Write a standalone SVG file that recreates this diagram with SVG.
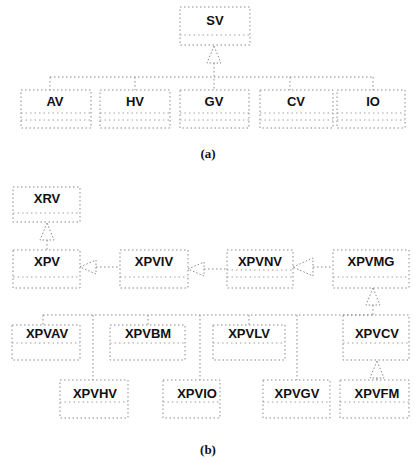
<svg xmlns="http://www.w3.org/2000/svg" width="417" height="465" viewBox="0 0 417 465">
<style>
.box{fill:none;stroke:#8a8a8a;stroke-width:1;stroke-dasharray:1.5 2.5}
.div{fill:none;stroke:#a0a0a0;stroke-width:1;stroke-dasharray:1.5 3}
.ln{fill:none;stroke:#8a8a8a;stroke-width:1;stroke-dasharray:1.5 2.5}
.tri{fill:#fff;stroke:#8a8a8a;stroke-width:1;stroke-dasharray:1.5 2}
.t{font-family:"Liberation Sans",Arial,sans-serif;font-weight:bold;font-size:13px;fill:#111;text-anchor:middle}
.cap{font-family:"Liberation Serif","Times New Roman",serif;font-weight:bold;font-size:13px;fill:#111;text-anchor:middle}
</style>
<rect width="417" height="465" fill="#fff"/>
<g id="connectors">
<!-- (a) -->
<line class="ln" x1="50" y1="77" x2="373" y2="77"/>
<line class="ln" x1="50" y1="77" x2="50" y2="90"/>
<line class="ln" x1="135" y1="77" x2="135" y2="90"/>
<line class="ln" x1="214" y1="63" x2="214" y2="90"/>
<line class="ln" x1="290" y1="77" x2="290" y2="90"/>
<line class="ln" x1="373" y1="77" x2="373" y2="90"/>
<polygon class="tri" points="214,46 207,63 221,63"/>
<!-- (b) -->
<line class="ln" x1="47" y1="240" x2="47" y2="250"/>
<polygon class="tri" points="47,223 40,240 54,240"/>
<line class="ln" x1="96" y1="267" x2="120" y2="267"/>
<polygon class="tri" points="80,267 96,260 96,274"/>
<line class="ln" x1="204" y1="269" x2="227" y2="269"/>
<polygon class="tri" points="188,269 204,262 204,276"/>
<line class="ln" x1="313" y1="267" x2="333" y2="267"/>
<polygon class="tri" points="293,267 313,258 313,276"/>
<polygon class="tri" points="373,288 366,305 380,305"/>
<line class="ln" x1="373" y1="305" x2="373" y2="315"/>
<line class="ln" x1="43" y1="315" x2="373" y2="315"/>
<line class="ln" x1="43" y1="315" x2="43" y2="325"/>
<line class="ln" x1="93" y1="315" x2="93" y2="380"/>
<line class="ln" x1="148" y1="315" x2="148" y2="325"/>
<line class="ln" x1="200" y1="315" x2="200" y2="380"/>
<line class="ln" x1="249" y1="315" x2="249" y2="325"/>
<line class="ln" x1="297" y1="315" x2="297" y2="380"/>
<polygon class="tri" points="377,361 370,378 384,378"/>
<line class="ln" x1="377" y1="378" x2="377" y2="380"/>
</g>
<g id="SV"><rect class="box" x="180" y="7" width="70" height="38"/><line class="div" x1="180" y1="35" x2="250" y2="35"/><text class="t" x="215" y="25">SV</text></g>
<g id="AV"><rect class="box" x="21" y="90" width="70" height="38"/><line class="div" x1="21" y1="113" x2="91" y2="113"/><line class="div" x1="21" y1="120" x2="91" y2="120"/><text class="t" x="55" y="106">AV</text></g>
<g id="HV"><rect class="box" x="100" y="90" width="70" height="38"/><line class="div" x1="100" y1="113" x2="170" y2="113"/><line class="div" x1="100" y1="120" x2="170" y2="120"/><text class="t" x="135" y="106">HV</text></g>
<g id="GV"><rect class="box" x="180" y="90" width="69" height="38"/><line class="div" x1="180" y1="113" x2="249" y2="113"/><line class="div" x1="180" y1="120" x2="249" y2="120"/><text class="t" x="214" y="106">GV</text></g>
<g id="CV"><rect class="box" x="260" y="90" width="73" height="38"/><line class="div" x1="260" y1="113" x2="333" y2="113"/><line class="div" x1="260" y1="120" x2="333" y2="120"/><text class="t" x="296" y="106">CV</text></g>
<g id="IO"><rect class="box" x="337" y="90" width="68" height="38"/><line class="div" x1="337" y1="113" x2="405" y2="113"/><line class="div" x1="337" y1="120" x2="405" y2="120"/><text class="t" x="373" y="106">IO</text></g>
<text class="cap" x="208" y="158">(a)</text>
<g id="XRV"><rect class="box" x="13" y="187" width="67" height="35"/><line class="div" x1="13" y1="213" x2="80" y2="213"/><text class="t" x="47" y="203">XRV</text></g>
<g id="XPV"><rect class="box" x="13" y="250" width="67" height="38"/><line class="div" x1="13" y1="277" x2="80" y2="277"/><text class="t" x="47" y="266">XPV</text></g>
<g id="XPVIV"><rect class="box" x="120" y="250" width="68" height="38"/><line class="div" x1="120" y1="277" x2="188" y2="277"/><text class="t" x="154" y="266">XPVIV</text></g>
<g id="XPVNV"><rect class="box" x="227" y="250" width="66" height="38"/><line class="div" x1="227" y1="270" x2="293" y2="270"/><line class="div" x1="227" y1="277" x2="293" y2="277"/><text class="t" x="260" y="266">XPVNV</text></g>
<g id="XPVMG"><rect class="box" x="333" y="250" width="76" height="38"/><line class="div" x1="333" y1="277" x2="409" y2="277"/><text class="t" x="371" y="266">XPVMG</text></g>
<g id="XPVAV"><rect class="box" x="12" y="325" width="68" height="35"/><line class="div" x1="12" y1="343" x2="80" y2="343"/><text class="t" x="47" y="338">XPVAV</text></g>
<g id="XPVBM"><rect class="box" x="110" y="325" width="75" height="35"/><line class="div" x1="110" y1="343" x2="185" y2="343"/><text class="t" x="148" y="338">XPVBM</text></g>
<g id="XPVLV"><rect class="box" x="213" y="325" width="72" height="35"/><line class="div" x1="213" y1="343" x2="285" y2="343"/><text class="t" x="249" y="338">XPVLV</text></g>
<g id="XPVCV"><rect class="box" x="343" y="315" width="66" height="45"/><line class="div" x1="343" y1="343" x2="409" y2="343"/><text class="t" x="377" y="338">XPVCV</text></g>
<g id="XPVHV"><rect class="box" x="60" y="380" width="68" height="38"/><line class="div" x1="60" y1="402" x2="128" y2="402"/><text class="t" x="95" y="398">XPVHV</text></g>
<g id="XPVIO"><rect class="box" x="163" y="380" width="57" height="38"/><line class="div" x1="163" y1="402" x2="220" y2="402"/><text class="t" x="197" y="398">XPVIO</text></g>
<g id="XPVGV"><rect class="box" x="263" y="380" width="67" height="38"/><line class="div" x1="263" y1="402" x2="330" y2="402"/><text class="t" x="297" y="398">XPVGV</text></g>
<g id="XPVFM"><rect class="box" x="340" y="380" width="69" height="38"/><line class="div" x1="340" y1="402" x2="409" y2="402"/><text class="t" x="377" y="398">XPVFM</text></g>
<text class="cap" x="208" y="454">(b)</text>
</svg>
